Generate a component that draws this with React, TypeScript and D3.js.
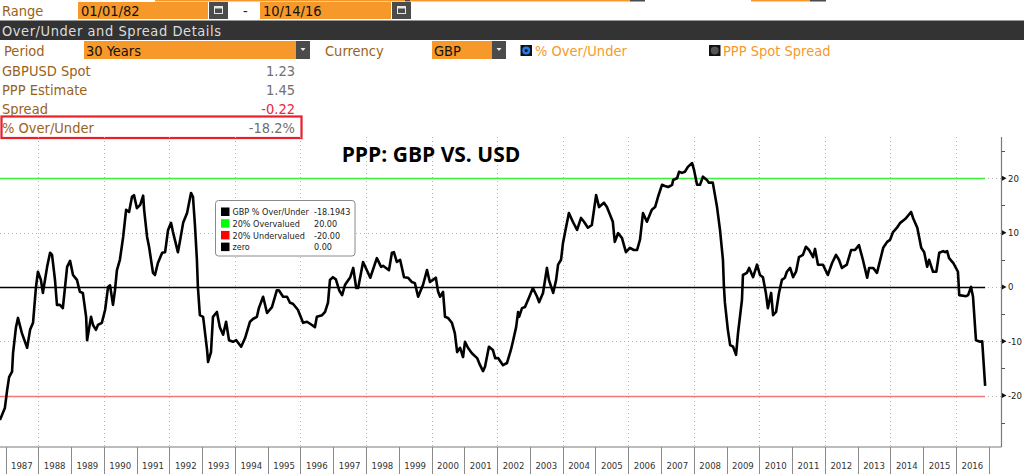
import React from 'react';
import * as d3 from 'd3';

// ---- data (decimal year, % over/under) ----
const ppDates = [
  1986.83, 1986.98, 1987.05, 1987.11, 1987.20, 1987.23, 1987.32, 1987.38, 1987.50, 1987.66,
  1987.75, 1987.84, 1987.93, 1987.99, 1988.08, 1988.14, 1988.27, 1988.36, 1988.42, 1988.51,
  1988.57, 1988.66, 1988.75, 1988.88, 1988.97, 1989.06, 1989.18, 1989.27, 1989.36, 1989.46,
  1989.49, 1989.61, 1989.67, 1989.76, 1989.82, 1989.94, 1990.04, 1990.13, 1990.19, 1990.28,
  1990.34, 1990.40, 1990.49, 1990.59, 1990.68, 1990.77, 1990.86, 1990.92, 1991.01, 1991.11,
  1991.20, 1991.23, 1991.32, 1991.38, 1991.50, 1991.56, 1991.65, 1991.78, 1991.87, 1991.96,
  1992.05, 1992.11, 1992.26, 1992.32, 1992.42, 1992.54, 1992.66, 1992.72, 1992.78, 1992.84,
  1992.87, 1992.93, 1993.03, 1993.15, 1993.18, 1993.27, 1993.33, 1993.45, 1993.54, 1993.64,
  1993.73, 1993.82, 1993.94, 1994.04, 1994.19, 1994.31, 1994.46, 1994.55, 1994.67, 1994.73,
  1994.86, 1994.98, 1995.13, 1995.28, 1995.34, 1995.47, 1995.59, 1995.68, 1995.77, 1995.92,
  1996.08, 1996.20, 1996.35, 1996.44, 1996.50, 1996.66, 1996.75, 1996.84, 1996.90, 1996.99,
  1997.08, 1997.18, 1997.27, 1997.36, 1997.52, 1997.61, 1997.70, 1997.76, 1997.91, 1998.13,
  1998.33, 1998.46, 1998.52, 1998.61, 1998.70, 1998.79, 1998.85, 1998.94, 1999.04, 1999.16,
  1999.28, 1999.40, 1999.49, 1999.59, 1999.74, 1999.86, 1999.95, 2000.04, 2000.13, 2000.20,
  2000.26, 2000.35, 2000.41, 2000.50, 2000.62, 2000.71, 2000.78, 2000.87, 2000.96, 2001.02,
  2001.11, 2001.23, 2001.39, 2001.48, 2001.57, 2001.63, 2001.75, 2001.87, 2001.94, 2002.03,
  2002.18, 2002.30, 2002.42, 2002.48, 2002.58, 2002.64, 2002.67, 2002.76, 2002.85, 2002.97,
  2003.09, 2003.22, 2003.28, 2003.40, 2003.52, 2003.58, 2003.71, 2003.80, 2003.86, 2003.95,
  2004.01, 2004.10, 2004.19, 2004.31, 2004.44, 2004.56, 2004.65, 2004.77, 2004.89, 2005.02,
  2005.11, 2005.26, 2005.35, 2005.53, 2005.59, 2005.69, 2005.81, 2005.93, 2006.05, 2006.17,
  2006.27, 2006.36, 2006.45, 2006.57, 2006.72, 2006.82, 2006.91, 2007.03, 2007.12, 2007.22,
  2007.34, 2007.37, 2007.49, 2007.55, 2007.64, 2007.73, 2007.82, 2007.95, 2008.01, 2008.10,
  2008.19, 2008.28, 2008.40, 2008.46, 2008.58, 2008.71, 2008.80, 2008.89, 2008.92, 2008.95,
  2009.04, 2009.11, 2009.20, 2009.29, 2009.35, 2009.47, 2009.50, 2009.62, 2009.69, 2009.81,
  2009.93, 2010.02, 2010.11, 2010.20, 2010.26, 2010.36, 2010.42, 2010.51, 2010.60, 2010.69,
  2010.78, 2010.84, 2010.94, 2011.03, 2011.12, 2011.21, 2011.33, 2011.42, 2011.52, 2011.64,
  2011.70, 2011.79, 2011.94, 2012.09, 2012.22, 2012.34, 2012.43, 2012.52, 2012.67, 2012.80,
  2012.92, 2013.04, 2013.16, 2013.29, 2013.35, 2013.47, 2013.59, 2013.78, 2013.90, 2013.99,
  2014.08, 2014.20, 2014.30, 2014.45, 2014.63, 2014.69, 2014.82, 2014.94, 2015.03, 2015.12,
  2015.18, 2015.30, 2015.40, 2015.49, 2015.61, 2015.67, 2015.73, 2015.79, 2015.92, 2016.06,
  2016.10, 2016.31, 2016.37, 2016.46, 2016.52, 2016.61, 2016.74, 2016.80, 2016.89,
];
const ppValues = [
  -24.5, -22.3, -19.0, -16.6, -15.6, -12.2, -7.4, -5.7, -8.5, -11.2,
  -7.9, -6.6, 0.0, 2.8, 1.3, -1.1, 3.7, 6.3, 5.9, 1.3,
  -3.3, -3.3, -3.9, 3.7, 4.8, 2.2, 1.3, -0.9, -1.1, -5.5,
  -9.8, -5.5, -7.0, -7.9, -7.0, -6.6, -4.2, 0.0, 0.3, -3.3,
  -0.6, 3.1, 5.0, 9.2, 14.2, 13.8, 16.6, 16.9, 14.5, 15.1,
  16.8, 14.2, 9.2, 7.4, 2.6, 2.2, 4.4, 6.3, 6.4, 10.5,
  11.8, 10.1, 6.4, 8.3, 11.8, 13.6, 17.3, 16.6, 11.4, 5.0,
  0.0, -5.2, -5.5, -11.6, -13.8, -12.0, -5.5, -4.6, -7.4, -8.8,
  -6.4, -9.8, -10.1, -9.8, -11.0, -9.4, -6.4, -5.9, -5.5, -3.9,
  -1.8, -4.8, -3.7, -0.6, -0.6, -1.8, -1.8, -2.9, -3.1, -4.2,
  -6.6, -6.4, -7.0, -7.4, -5.5, -5.2, -4.6, -2.9, 1.3, 1.8,
  1.4, -0.6, -1.5, 0.4, 1.8, 3.5, -0.2, -0.2, 4.6, 1.7,
  5.3, 3.7, 3.9, 3.5, 3.1, 6.3, 6.4, 4.6, 5.0, 1.8,
  1.7, 0.9, 0.7, -1.8, 0.4, 3.1, 0.9, 1.3, 1.7, -0.9,
  -1.8, -0.9, -5.5, -5.7, -6.6, -8.5, -12.0, -11.2, -12.9, -10.1,
  -11.2, -12.2, -13.1, -14.4, -15.5, -14.7, -11.0, -11.6, -13.1, -13.1,
  -14.4, -14.0, -11.6, -10.1, -7.4, -4.6, -5.5, -3.9, -3.7, -2.0,
  -0.2, -1.8, -2.8, -1.1, 3.5, 1.3, -1.1, 1.3, 4.1, 5.0,
  8.1, 10.9, 13.6, 12.0, 10.5, 12.7, 12.0, 10.9, 11.4, 16.9,
  14.7, 15.5, 14.7, 12.0, 8.3, 9.9, 9.0, 6.4, 7.2, 6.8,
  6.8, 8.7, 13.6, 12.0, 14.2, 14.7, 16.6, 18.8, 18.6, 18.4,
  18.8, 19.7, 20.0, 21.2, 21.0, 21.2, 22.1, 22.8, 21.5, 18.8,
  18.8, 20.3, 19.7, 19.2, 19.2, 14.7, 10.5, 5.0, 0.0, -2.9,
  -7.9, -10.7, -11.0, -12.5, -8.5, -2.4, 2.2, 2.6, 3.5, 1.8,
  4.1, 2.2, 1.8, -1.1, -3.9, -1.1, -5.2, -4.6, -1.1, 1.3,
  1.7, 2.8, 3.5, 1.8, 2.8, 5.5, 5.9, 7.4, 6.8, 5.5,
  7.0, 4.1, 4.1, 2.2, 4.4, 5.9, 5.0, 3.5, 4.1, 6.8,
  6.8, 7.7, 5.0, 1.7, 3.5, 3.5, 2.6, 7.2, 8.3, 8.7,
  10.1, 10.9, 11.8, 12.5, 13.8, 12.7, 10.9, 7.2, 6.4, 3.7,
  5.0, 2.8, 2.8, 6.3, 6.6, 6.4, 6.6, 5.3, 4.4, 2.8,
  -1.5, -1.7, -1.5, 0.0, -1.8, -9.8, -10.1, -10.0, -18.2,
];

const yearLabels = [
  1987, 1988, 1989, 1990, 1991, 1992, 1993, 1994, 1995, 1996,
  1997, 1998, 1999, 2000, 2001, 2002, 2003, 2004, 2005, 2006,
  2007, 2008, 2009, 2010, 2011, 2012, 2013, 2014, 2015, 2016,
];
const yTicks = [-20, -10, 0, 10, 20];
const yMinorTicks = [-25, -15, -5, 5, 15, 25];

const legendNames = ['GBP % Over/Under', '20% Overvalued', '20% Undervalued', 'zero'];
const legendValues = ['-18.1943', '20.00', '-20.00', '0.00'];
const legendColors = ['#000000', '#00ff00', '#ff0000', '#000000'];
const refValues = [20, -20, 0];
const refColors = ['#3cf03c', '#f07878', '#000000'];

const detailLabels = ['GBPUSD Spot', 'PPP Estimate', 'Spread', '% Over/Under'];
const detailValues = ['1.23', '1.45', '-0.22', '-18.2%'];
const detailValueColors = ['#707070', '#707070', '#e8283c', '#707070'];

const FONT = "'DejaVu Sans Condensed', 'DejaVu Sans', sans-serif";
const ORANGE = '#f7992a';
const BROWN = '#9a6218';
const BTN = '#4b4b4b';

const W = 1024;
const H = 474;
const plotTop = 137;
const plotBottom = 447;
const axisX = 1001.5;
const HF = 14.5;

function CalIcon({ x }: { x: number }) {
  return (
    <g>
      <rect x={x} y={2} width={19} height={17} fill={BTN} />
      <rect x={x + 5.5} y={6.5} width={8} height={7} fill="none" stroke="#e6e6e6" strokeWidth={1} />
      <rect x={x + 5.5} y={6.5} width={8} height={2} fill="#e6e6e6" />
    </g>
  );
}

function DropBtn({ x }: { x: number }) {
  return (
    <g>
      <rect x={x} y={41} width={14} height={18} fill={BTN} />
      <path d={`M${x + 4.5},${48} L${x + 9.5},${48} L${x + 7},${51} Z`} fill="#eeeeee" />
    </g>
  );
}

export default function App() {
  const x = d3.scaleLinear().domain([1987, 2017]).range([5.5, 988.75]);
  const y = d3.scaleLinear().domain([-20, 20]).range([395.6, 178.3]);
  const pts = ppDates.map((d, i) => [d, ppValues[i]] as [number, number]);
  const line = d3.line<[number, number]>().x((d) => x(d[0])).y((d) => y(d[1]));
  const dataEnd = x(ppDates[ppDates.length - 1]);
  const gridYears = yearLabels.filter((yr) => yr % 2 === 0);

  return (
    <svg
      width={W}
      height={H}
      style={{ position: 'absolute', left: 0, top: 0, background: '#fff', fontStretch: 'condensed' }}
      fontFamily={FONT}
    >
      <rect x={0} y={0} width={W} height={H} fill="#ffffff" />
      {/* top partial strips */}
      <rect x={155} y={0} width={250} height={1.5} fill={ORANGE} />
      <rect x={405} y={0} width={5} height={1.5} fill={BTN} />
      <rect x={410} y={0} width={220} height={1.5} fill={ORANGE} />
      <rect x={630} y={0} width={15} height={1.5} fill={BTN} />
      <rect x={751} y={0} width={59} height={1.5} fill={ORANGE} />
      <rect x={810} y={0} width={16} height={1.5} fill={BTN} />

      {/* Range row */}
      <text x={2} y={16} fontSize={HF} fill={BROWN}>Range</text>
      <rect x={78} y={2} width={130} height={17} fill={ORANGE} />
      <text x={81} y={16} fontSize={HF} fill="#111">01/01/82</text>
      <CalIcon x={209} />
      <text x={243} y={16} fontSize={HF} fill="#222">-</text>
      <rect x={260} y={2} width={131} height={17} fill={ORANGE} />
      <text x={263} y={16} fontSize={HF} fill="#111">10/14/16</text>
      <CalIcon x={392} />

      {/* dark header bar */}
      <rect x={0} y={20.5} width={W} height={19.5} fill="#333333" />
      <text x={2} y={36} fontSize={HF} fill="#dcdcdc" textLength={219} lengthAdjust="spacing">
        Over/Under and Spread Details
      </text>

      {/* Period / Currency row */}
      <text x={4} y={56} fontSize={HF} fill={BROWN}>Period</text>
      <rect x={84} y={41} width={212} height={18} fill={ORANGE} />
      <text x={86} y={56} fontSize={HF} fill="#111">30 Years</text>
      <DropBtn x={296} />
      <text x={325} y={56} fontSize={HF} fill={BROWN}>Currency</text>
      <rect x={432} y={41} width={60} height={18} fill={ORANGE} />
      <text x={434} y={56} fontSize={HF} fill="#111">GBP</text>
      <DropBtn x={492} />
      <rect x={520.5} y={45} width={11.5} height={11} fill="#111" />
      <circle cx={526.2} cy={50.5} r={4} fill="#1e7cf0" />
      <circle cx={526.2} cy={50.5} r={1.5} fill="#111" />
      <text x={535} y={56} fontSize={HF} fill={ORANGE}>% Over/Under</text>
      <rect x={709} y={45} width={11.5} height={11} fill="#111" />
      <circle cx={714.7} cy={50.5} r={4} fill="#555" />
      <text x={723} y={56} fontSize={HF} fill={ORANGE}>PPP Spot Spread</text>

      {/* details rows */}
      {detailLabels.map((lab, i) => (
        <g key={lab}>
          <text x={2} y={76 + i * 19} fontSize={HF} fill={BROWN}>{lab}</text>
          <text x={295} y={76 + i * 19} fontSize={HF} fill={detailValueColors[i]} textAnchor="end">
            {detailValues[i]}
          </text>
        </g>
      ))}
      <rect x={1.5} y={116.5} width={300} height={21.5} fill="none" stroke="#e8202a" strokeWidth={2.2} />

      {/* grid */}
      <g stroke="#b4b4b4" strokeWidth={1} strokeDasharray="1,3">
        {gridYears.map((yr) => (
          <line key={yr} x1={Math.round(x(yr)) + 0.5} x2={Math.round(x(yr)) + 0.5} y1={plotTop} y2={plotBottom} />
        ))}
        {yTicks.map((t) => (
          <line key={t} x1={0} x2={axisX} y1={Math.round(y(t)) + 0.5} y2={Math.round(y(t)) + 0.5} />
        ))}
      </g>

      {/* reference lines */}
      {refValues.map((v, i) => (
        <line
          key={v}
          x1={0}
          x2={dataEnd}
          y1={Math.round(y(v)) + 0.5}
          y2={Math.round(y(v)) + 0.5}
          stroke={refColors[i]}
          strokeWidth={1.3}
        />
      ))}

      {/* data line */}
      <path d={line(pts) || ''} fill="none" stroke="#000" strokeWidth={2.6} strokeLinejoin="round" />

      {/* title */}
      <text x={431} y={162} fontSize={21} fontWeight="bold" textAnchor="middle" fill="#000"
        fontFamily="'Open Sans', sans-serif" style={{ fontStretch: 'normal' }}>
        PPP: GBP VS. USD
      </text>

      {/* legend */}
      <rect x={215.5} y={200.5} width={139.5} height={55.5} rx={3} fill="#fff" stroke="#8a8a8a" strokeWidth={1} />
      {legendNames.map((n, i) => (
        <g key={n}>
          <rect x={221} y={207.5 + i * 11.7} width={8.5} height={8.5} fill={legendColors[i]} />
          <text x={232.5} y={215.2 + i * 11.7} fontSize={9} fill="#222">{n}</text>
          <text x={314} y={215.2 + i * 11.7} fontSize={9} fill="#222">{legendValues[i]}</text>
        </g>
      ))}

      {/* y axis */}
      <line x1={axisX} x2={axisX} y1={plotTop} y2={plotBottom} stroke="#7a7a7a" strokeWidth={1.2} />
      {yMinorTicks.map((t) => (
        <line key={t} x1={axisX} x2={axisX + 3.5} y1={Math.round(y(t)) + 0.5} y2={Math.round(y(t)) + 0.5} stroke="#555" strokeWidth={1} />
      ))}
      {yTicks.map((t) => (
        <g key={t}>
          <path d={`M${axisX + 0.5},${y(t) - 2.5} L${axisX + 5},${y(t)} L${axisX + 0.5},${y(t) + 2.5} Z`} fill="#111" />
          <text x={axisX + 6.5} y={y(t) + 3.5} fontSize={9.5} fill="#222">{t}</text>
        </g>
      ))}

      {/* x axis */}
      <line x1={0} x2={axisX} y1={plotBottom} y2={plotBottom} stroke="#7a7a7a" strokeWidth={1.2} />
      {yearLabels.concat([2017]).map((yr) => (
        <line key={yr} x1={Math.round(x(yr)) + 0.5} x2={Math.round(x(yr)) + 0.5} y1={plotBottom} y2={H} stroke="#8a8a8a" strokeWidth={1} />
      ))}
      {yearLabels.map((yr) => (
        <text key={yr} x={x(yr + 0.5)} y={469} fontSize={9.5} textAnchor="middle" fill="#333">{yr}</text>
      ))}
    </svg>
  );
}
